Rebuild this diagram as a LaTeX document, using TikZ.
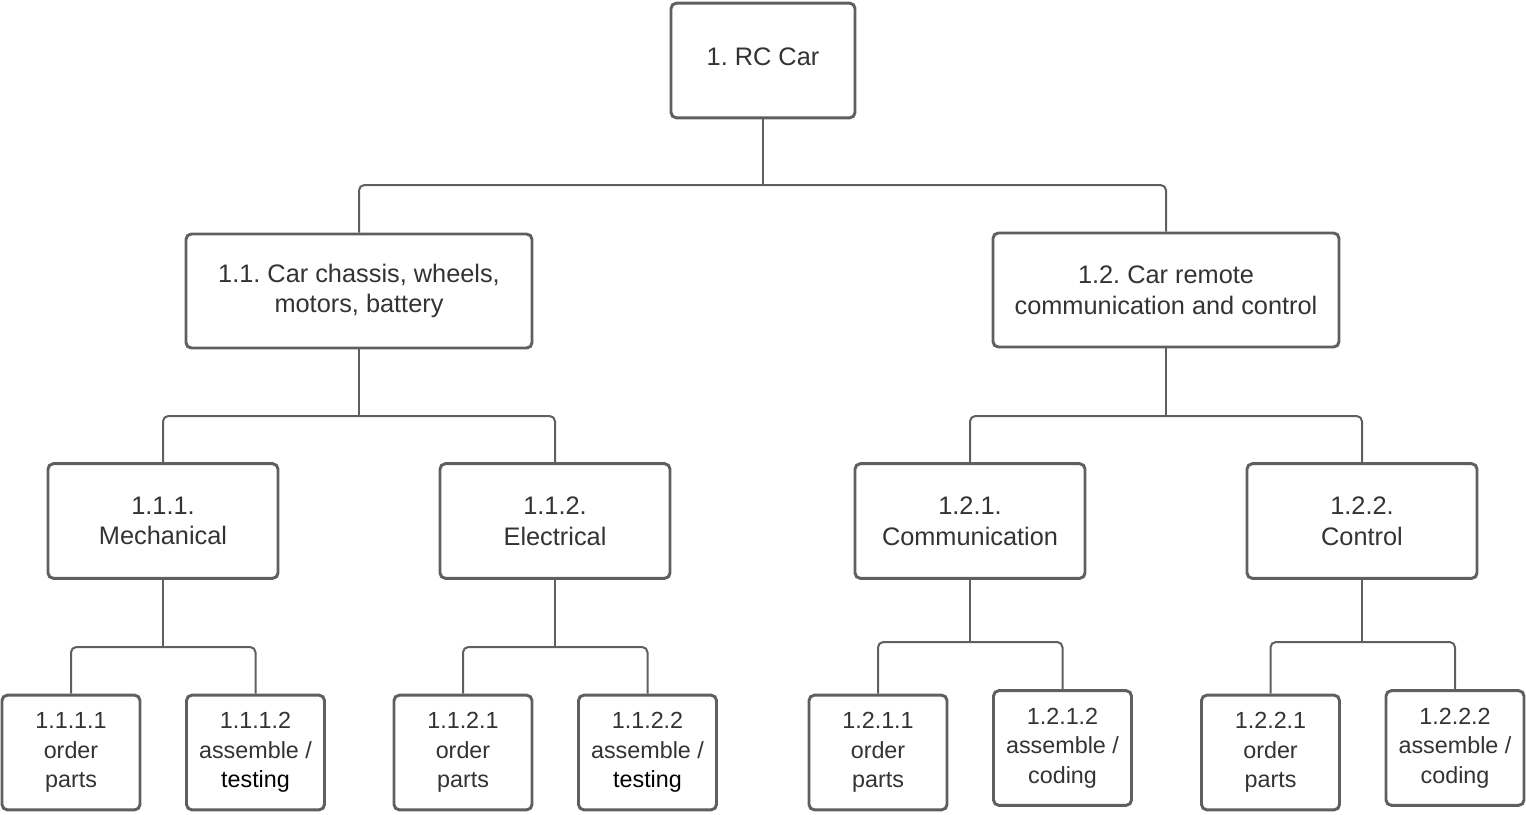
\documentclass[tikz,border=0pt]{standalone}
\usepackage{fontspec}
\setmainfont{Liberation Sans}
\frenchspacing
\definecolor{boxline}{HTML}{5F5F5F}
\definecolor{txt}{HTML}{333333}
\begin{document}
\begin{tikzpicture}[x=0.75pt,y=-0.75pt,
  wbs/.style={draw=boxline,line width=2.2pt,rounded corners=4pt,fill=white,
    align=center,text=txt,inner sep=0pt,
    font=\fontsize{19}{23}\selectfont},
  big/.style={wbs,minimum width=259.5pt,minimum height=85.5pt},
  mid/.style={wbs,minimum width=172.5pt,minimum height=86pt},
  leaf/.style={wbs,minimum width=103.5pt,minimum height=86pt,
    font=\fontsize{17.5}{22}\selectfont},
  link/.style={draw=boxline,line width=1.5pt,rounded corners=4pt}]
\useasboundingbox (0,0) rectangle (1526,814);
\node[wbs,minimum width=138pt,minimum height=86pt,text depth=6pt] (root) at (763,60.5) {1. RC Car};
\node[big] (n11) at (359,291) {1.1. Car chassis, wheels,\\motors, battery};
\node[big] (n12) at (1166,290) {1.2. Car remote\\communication and control};
\node[mid] (n111) at (163,521) {1.1.1.\\Mechanical};
\node[mid] (n112) at (555,521) {1.1.2.\\Electrical};
\node[mid] (n121) at (970,521) {1.2.1.\\Communication};
\node[mid] (n122) at (1362,521) {1.2.2.\\Control};
\node[leaf] (n1111) at (71,752.5) {1.1.1.1\\order\\parts};
\node[leaf] (n1112) at (255.5,752.5) {1.1.1.2\\assemble /\\\textcolor{black}{testing}};
\node[leaf] (n1121) at (463,752.5) {1.1.2.1\\order\\parts};
\node[leaf] (n1122) at (647.5,752.5) {1.1.2.2\\assemble /\\\textcolor{black}{testing}};
\node[leaf] (n1211) at (878,752.5) {1.2.1.1\\order\\parts};
\node[leaf] (n1212) at (1062.5,748) {1.2.1.2\\assemble /\\coding};
\node[leaf] (n1221) at (1270.5,752.5) {1.2.2.1\\order\\parts};
\node[leaf] (n1222) at (1455,748) {1.2.2.2\\assemble /\\coding};
% junctions
\coordinate (j0) at (763,185);
\coordinate (j11) at (359,416);
\coordinate (j12) at (1166,416);
\coordinate (j111) at (163,647);
\coordinate (j112) at (555,647);
\coordinate (j121) at (970,642);
\coordinate (j122) at (1362,642);
\draw[link] (root.south) -- (j0);
\draw[link] (j0) -| (n11.north);
\draw[link] (j0) -| (n12.north);
\draw[link] (n11.south) -- (j11);
\draw[link] (j11) -| (n111.north);
\draw[link] (j11) -| (n112.north);
\draw[link] (n12.south) -- (j12);
\draw[link] (j12) -| (n121.north);
\draw[link] (j12) -| (n122.north);
\draw[link] (n111.south) -- (j111);
\draw[link] (j111) -| (n1111.north);
\draw[link] (j111) -| (n1112.north);
\draw[link] (n112.south) -- (j112);
\draw[link] (j112) -| (n1121.north);
\draw[link] (j112) -| (n1122.north);
\draw[link] (n121.south) -- (j121);
\draw[link] (j121) -| (n1211.north);
\draw[link] (j121) -| (n1212.north);
\draw[link] (n122.south) -- (j122);
\draw[link] (j122) -| (n1221.north);
\draw[link] (j122) -| (n1222.north);
\end{tikzpicture}
\end{document}
